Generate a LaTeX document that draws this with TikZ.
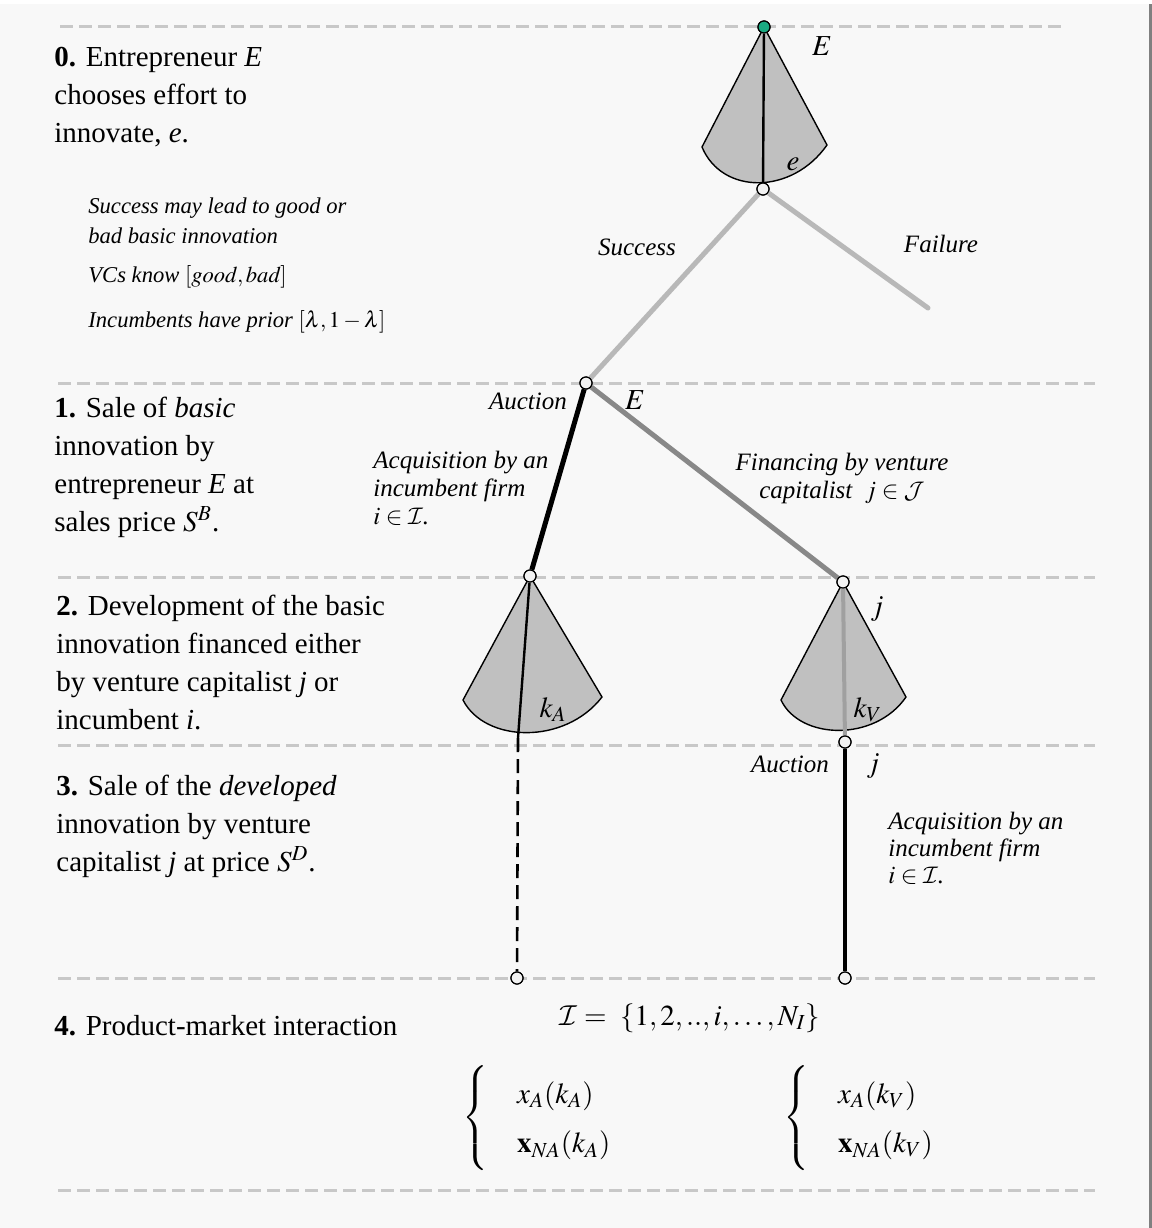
\documentclass[tikz,border=0pt]{standalone}
\usepackage{mathptmx}
\DeclareMathAlphabet{\mathcal}{OMS}{cmsy}{m}{n}
\usepackage[no-math]{fontspec}
\setmainfont{Liberation Serif}
\definecolor{bgc}{RGB}{248,248,248}
\definecolor{gridc}{RGB}{200,200,200}
\definecolor{fanc}{RGB}{192,192,192}
\definecolor{lightbr}{RGB}{184,184,184}
\definecolor{midbr}{RGB}{136,136,136}
\definecolor{vmid}{RGB}{160,160,160}
\definecolor{rootc}{RGB}{26,170,130}
\definecolor{nodec}{RGB}{242,242,242}
\begin{document}
\begin{tikzpicture}[x=0.5pt,y=-0.5pt,
pt/.style={circle,draw=black,line width=0.6pt,fill=nodec,inner sep=0pt,minimum size=6pt},
gridline/.style={draw=gridc,line width=1.5pt,dash pattern=on 6.5pt off 3pt},
fan/.style={draw=black,line width=0.7pt,fill=fanc,line join=round},
stage/.style={font=\fontsize{14.5}{19}\selectfont,align=left,anchor=base west,inner sep=0pt},
note/.style={font=\fontsize{11.3}{15}\selectfont\itshape,align=left,anchor=base west,inner sep=0pt},
lbl/.style={font=\fontsize{12.5}{14}\selectfont\itshape,inner sep=0pt,anchor=base},
mlbl/.style={font=\fontsize{14.5}{19}\selectfont,inner sep=0pt,anchor=base}
]
% page
\useasboundingbox (0,0) rectangle (1152,1228);
\fill[white] (0,0) rectangle (1152,4);
\fill[bgc] (0,4) rectangle (1149,1228);
\fill[gray] (1149,4) rectangle (1152,1228);
% stage separators
\draw[gridline] (60,26) -- (1065,26);
\foreach \yy in {383,577,745,978,1190}
  \draw[gridline] (58,\yy) -- (1095,\yy);
% decision nodes
\node[pt,fill=rootc] (root) at (764,27) {};
\node[pt] (eff) at (763,189) {};
\node[pt] (auc) at (586,383) {};
\node[pt] (nA) at (530,576) {};
\node[pt] (nV) at (843,582) {};
\node[pt] (mV) at (845,742) {};
\node[pt] (endA) at (517,978) {};
\node[pt] (endV) at (845,978) {};
\coordinate (fail) at (928,308);
\coordinate (kA) at (518,738);
% effort fans
\draw[fan] (root.center) -- (702,147) .. controls (722,195) and (792,195) .. (827,145) -- cycle;
\draw[fan] (nA.center) -- (463,700) .. controls (485,743) and (565,745) .. (602,697) -- cycle;
\draw[fan] (nV.center) -- (781,700) .. controls (800,740) and (875,742) .. (906,697) -- cycle;
\draw[line width=1.2pt] (root) -- (eff);
\draw[line width=1.2pt] (nA) -- (kA);
\draw[vmid,line width=2pt] (nV) -- (mV);
% branches
\draw[lightbr,line width=2.5pt] (eff) -- (auc);
\draw[lightbr,line width=2.5pt,line cap=round] (eff) -- (fail);
\draw[line width=2.5pt] (auc) -- (nA);
\draw[midbr,line width=2.5pt] (auc) -- (nV);
\draw[line width=1.3pt,dash pattern=on 7pt off 3.5pt] (kA) -- (endA);
\draw[line width=2pt] (mV) -- (endV);
% redraw nodes on top
\foreach \n in {eff,auc,nA,nV,mV,endA,endV}
  \node[pt] at (\n) {};
\node[pt,fill=rootc] at (root) {};
% tree labels (multi-line nodes sit on their last baseline)
\node[mlbl] (lE) at (822,55) {$E$};
\node[mlbl] (le) at (793,170) {$e$};
\node[lbl] (lsucc) at (637,255) {Success};
\node[lbl] (lfail) at (941,252) {Failure};
\node[lbl] (lauc) at (528,409) {Auction};
\node[mlbl] (lE2) at (635,409) {$E$};
\node[lbl,align=left,anchor=base west] (lacq) at (373,524) {Acquisition\ by an\\incumbent firm\\$i\in\mathcal{I}$.};
\node[lbl,align=center] (lfin) at (842,498) {Financing by venture\\capitalist\ \ $j\in\mathcal{J}$};
\node[mlbl] (lj) at (877,615) {$j$};
\node[mlbl] (lkA) at (553,717) {$k_A$};
\node[mlbl] (lkV) at (868,717) {$k_V$};
\node[lbl] (lauc2) at (790,772) {Auction};
\node[mlbl] (lj2) at (873,772) {$j$};
\node[lbl,font=\fontsize{12.5}{13.5}\selectfont\itshape,align=left,anchor=base west] (lacq2) at (888,883) {Acquisition by an\\incumbent firm\\$i\in\mathcal{I}$.};
\node[mlbl] (lset) at (690,1025) {$\mathcal{I}=\ \{1,2,..,i,\ldots,N_I\}$};
% outcomes
\node[mlbl,anchor=west] (outA) at (462,1118)
  {$\left\{\quad\renewcommand\arraystretch{1.3}\begin{array}{@{}l@{}}x_A(k_A)\\ \mathbf{x}_{NA}(k_A)\end{array}\right.$};
\node[mlbl,anchor=west] (outV) at (783,1118)
  {$\left\{\quad\renewcommand\arraystretch{1.3}\begin{array}{@{}l@{}}x_A(k_V)\\ \mathbf{x}_{NA}(k_V)\end{array}\right.$};
% stages
\node[stage] (st0) at (54,142) {\textbf{0.} Entrepreneur \textit{E}\\chooses effort to\\innovate, \textit{e}.};
\node[note] (nt1) at (88,243) {Success may lead to good or\\bad basic innovation};
\node[note] (nt2) at (88,282) {VCs know $[\mathit{good},\mathit{bad}]$};
\node[note] (nt3) at (88,327) {Incumbents have prior $[\lambda,1-\lambda]$};
\node[stage] (st1) at (54,531) {\textbf{1.} Sale of \textit{basic}\\innovation by\\entrepreneur \textit{E} at\\sales price $S^B$.};
\node[stage] (st2) at (56,729) {\textbf{2.} Development of the basic\\innovation financed either\\by venture capitalist \textit{j} or\\incumbent \textit{i}.};
\node[stage] (st3) at (56,871) {\textbf{3.} Sale of the \textit{developed}\\innovation by venture\\capitalist \textit{j} at price $S^D$.};
\node[stage] (st4) at (54,1035) {\textbf{4.} Product-market interaction};
\end{tikzpicture}
\end{document}
